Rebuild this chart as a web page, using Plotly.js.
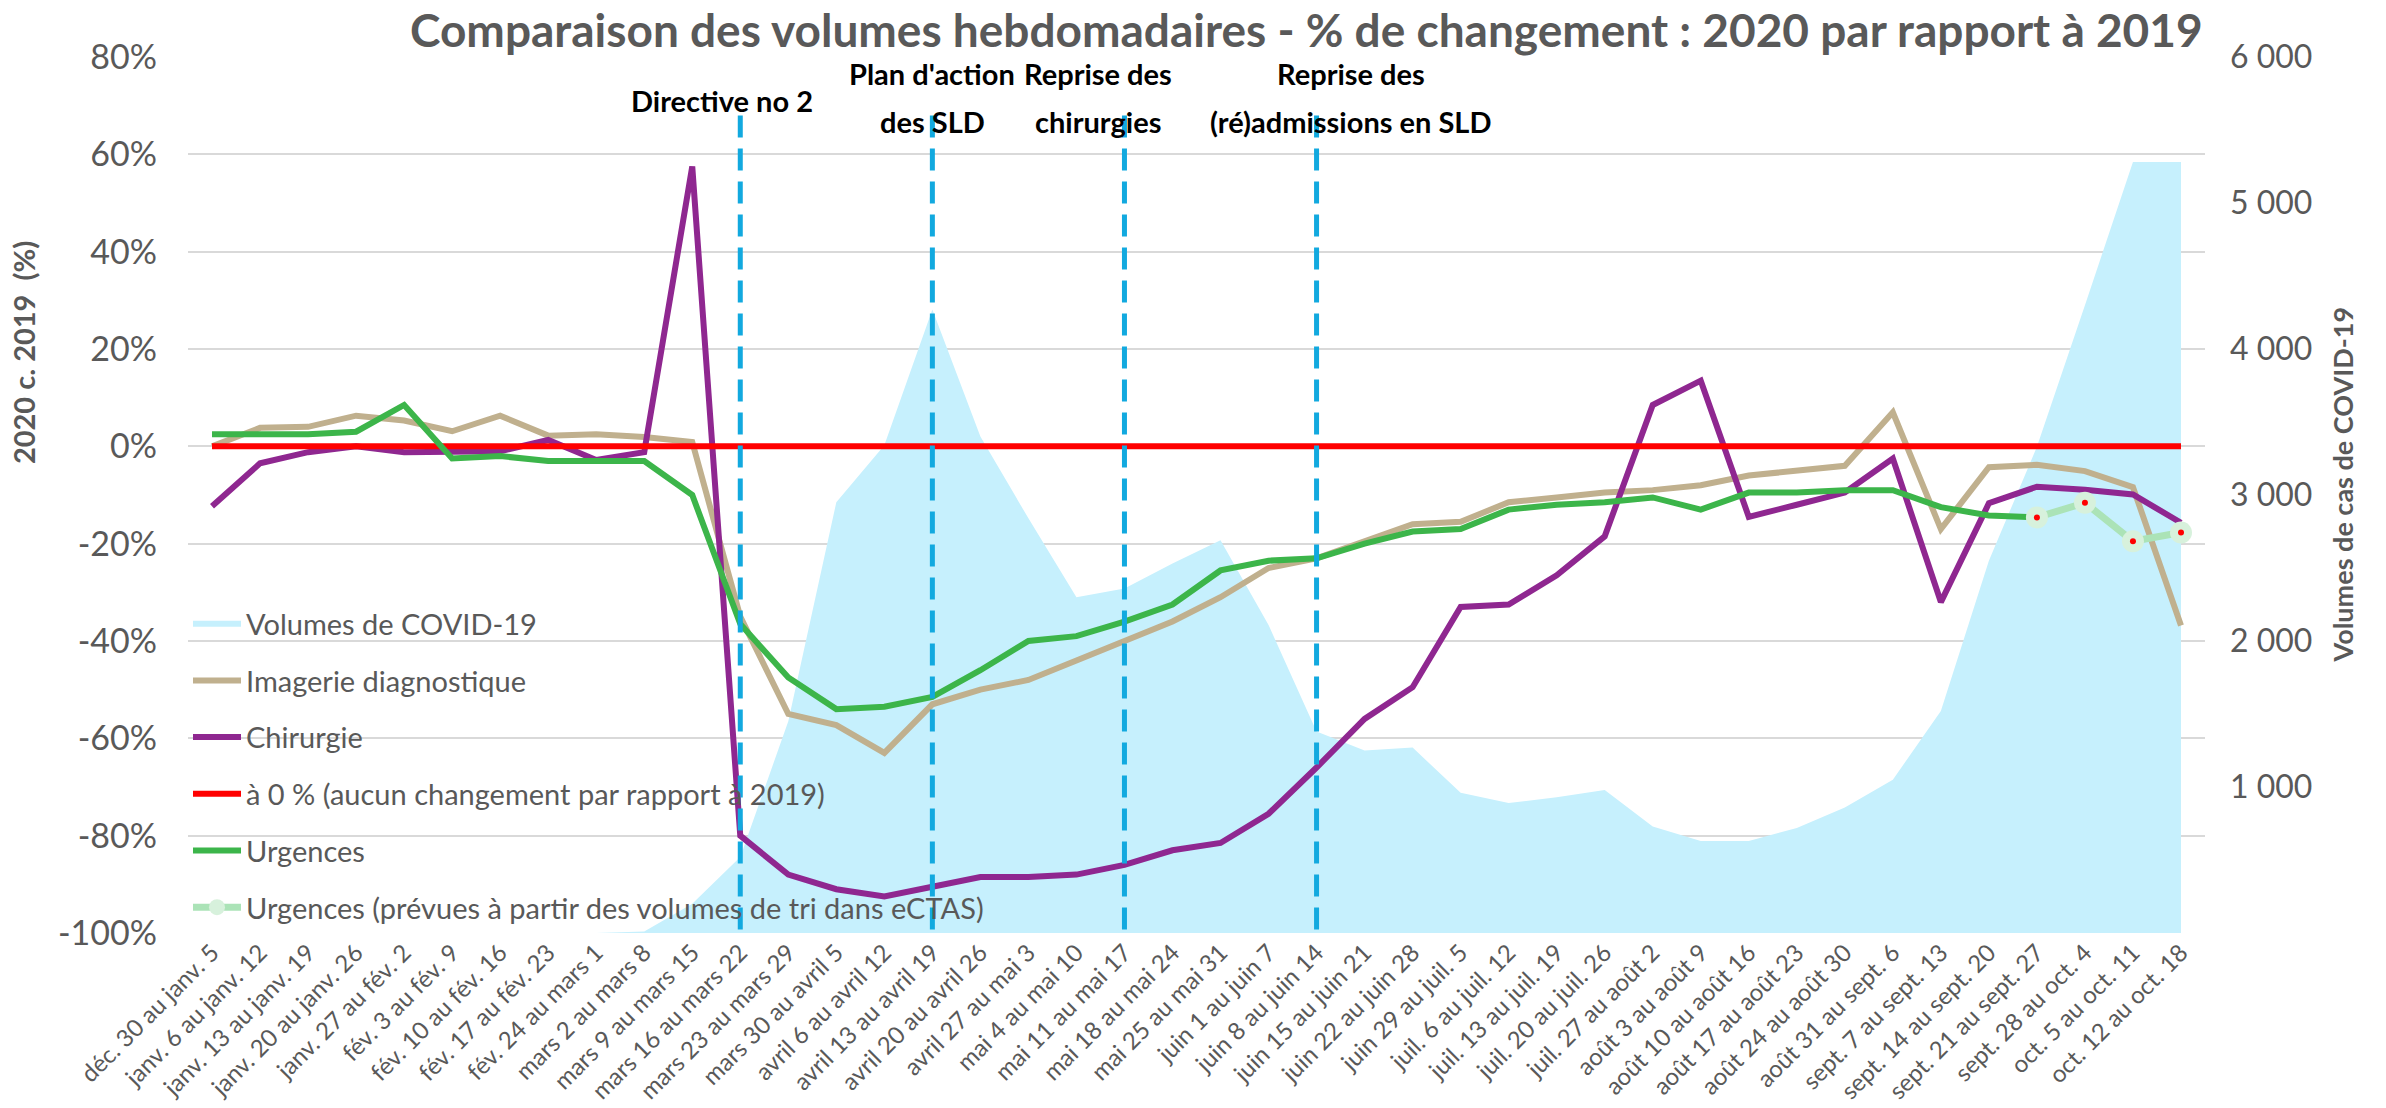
<!DOCTYPE html>
<html><head><meta charset="utf-8">
<script src="https://cdn.plot.ly/plotly-3.0.1.min.js"></script>
<style>html,body{margin:0;padding:0;background:#fff}#chart{width:2386px;height:1108px}</style>
</head><body><div id="chart"></div>
<script>
const categories = [
 'déc. 30 au janv. 5','janv. 6 au janv. 12','janv. 13 au janv. 19','janv. 20 au janv. 26','janv. 27 au fév. 2',
 'fév. 3 au fév. 9','fév. 10 au fév. 16','fév. 17 au fév. 23','fév. 24 au mars 1','mars 2 au mars 8',
 'mars 9 au mars 15','mars 16 au mars 22','mars 23 au mars 29','mars 30 au avril 5','avril 6 au avril 12',
 'avril 13 au avril 19','avril 20 au avril 26','avril 27 au mai 3','mai 4 au mai 10','mai 11 au mai 17',
 'mai 18 au mai 24','mai 25 au mai 31','juin 1 au juin 7','juin 8 au juin 14','juin 15 au juin 21',
 'juin 22 au juin 28','juin 29 au juil. 5','juil. 6 au juil. 12','juil. 13 au juil. 19','juil. 20 au juil. 26',
 'juil. 27 au août 2','août 3 au août 9','août 10 au août 16','août 17 au août 23','août 24 au août 30',
 'août 31 au sept. 6','sept. 7 au sept. 13','sept. 14 au sept. 20','sept. 21 au sept. 27','sept. 28 au oct. 4',
 'oct. 5 au oct. 11','oct. 12 au oct. 18'
];
const covidVolumes = [0,0,0,0,0,0,0,0,0,10,200,520,1450,2950,3340,4270,3400,2840,2300,2360,2530,2690,2110,1380,1250,1270,960,890,930,980,730,630,630,720,860,1050,1520,2550,3330,4300,5280,5280];
const imagerie = [0,3.8,4,6.3,5.3,3.1,6.3,2.2,2.5,1.9,0.9,-35,-55,-57.3,-63,-53,-50,-48,-44,-40,-36,-31,-25,-23,-19.5,-16,-15.5,-11.5,-10.5,-9.5,-9,-8,-6,-5,-4,7,-17,-4.3,-3.8,-5.1,-8.4,-36.8];
const chirurgie = [-12.3,-3.5,-1.2,0,-1.2,-1.2,-1,1.3,-2.8,-1.2,57.5,-80,-88,-91,-92.5,-90.5,-88.5,-88.5,-88,-86,-83,-81.5,-75.5,-66,-56,-49.5,-33,-32.5,-26.5,-18.5,8.5,13.5,-14.5,-12,-9.5,-2.5,-32,-11.7,-8.3,-8.9,-9.9,-15.7];
const baseline = [0,0,0,0,0,0,0,0,0,0,0,0,0,0,0,0,0,0,0,0,0,0,0,0,0,0,0,0,0,0,0,0,0,0,0,0,0,0,0,0,0,0];
const urgences = [2.5,2.5,2.5,3,8.5,-2.5,-2,-3,-3,-3,-10,-36.5,-47.5,-54,-53.5,-51.5,-46,-40,-39,-36,-32.5,-25.5,-23.5,-23,-20,-17.5,-17,-13,-12,-11.5,-10.5,-13,-9.5,-9.5,-9,-9,-12.5,-14.2,-14.6];
const forecastCategories = ['sept. 21 au sept. 27','sept. 28 au oct. 4','oct. 5 au oct. 11','oct. 12 au oct. 18'];
const urgencesPrevues = [-14.6,-11.6,-19.5,-17.7];
const eventCategories = ['mars 16 au mars 22','avril 13 au avril 19','mai 11 au mai 17','juin 8 au juin 14'];
const eventTitles = ['Directive no 2',"Plan d'action<br>des SLD",'Reprise des<br>chirurgies','Reprise des<br>(ré)admissions en SLD'];
const eventLineRange = [68,-100];
const pctTickVals = [-100,-80,-60,-40,-20,0,20,40,60,80];
const pctTickLabels = ['-100%','-80%','-60%','-40%','-20%','0%','20%','40%','60%','80%'];
const covidTickVals = [1000,2000,3000,4000,5000,6000];

const grey = '#595959';
const traces = [
 {x:categories,y:covidVolumes,type:'scatter',mode:'none',fill:'tozeroy',fillcolor:'#C6F0FD',name:'Volumes de COVID-19',yaxis:'y',legendgroup:'a'},
 {x:categories,y:imagerie,type:'scatter',mode:'lines',line:{color:'#C0B08E',width:6},name:'Imagerie diagnostique',yaxis:'y2',legendgroup:'b'},
 {x:categories,y:chirurgie,type:'scatter',mode:'lines',line:{color:'#8F2790',width:6},name:'Chirurgie',yaxis:'y2',legendgroup:'c'},
 {x:categories,y:baseline,type:'scatter',mode:'lines',line:{color:'#FF0000',width:6},name:'à 0 % (aucun changement par rapport à 2019)',yaxis:'y2',legendgroup:'d'},
 {x:categories.slice(0,urgences.length),y:urgences,type:'scatter',mode:'lines',line:{color:'#3CB54A',width:6},name:'Urgences',yaxis:'y2',legendgroup:'e'},
 {x:forecastCategories,y:urgencesPrevues,type:'scatter',mode:'lines+markers',line:{color:'#ABE3B7',width:7},marker:{size:22,color:'#D7F1DC'},name:'Urgences (prévues à partir des volumes de tri dans eCTAS)',yaxis:'y2',legendgroup:'f'},
 {x:forecastCategories,y:urgencesPrevues,type:'scatter',mode:'markers',marker:{size:6,color:'#FF0000'},showlegend:false,yaxis:'y2',legendgroup:'f'}
];
eventCategories.forEach(c=>{
 traces.push({x:[c,c],y:eventLineRange,type:'scatter',mode:'lines',line:{color:'#12A9DF',width:5,dash:'22px,11px'},showlegend:false,yaxis:'y2',hoverinfo:'skip'});
});

const annotations = [];
const eventShift = [-18,0,-26,34];
eventTitles.forEach((t,i)=>{
 const lines = t.split('<br>');
 const ys = lines.length===1 ? [0.9498] : [0.9817,0.9258];
 lines.forEach((ln,j)=>{
  annotations.push({text:'<b>'+ln+'</b>',x:eventCategories[i],xref:'x',y:ys[j],yref:'paper',xshift:eventShift[i],showarrow:false,xanchor:'center',yanchor:'middle',font:{size:29,color:'#000'}});
 });
});
annotations.push({text:'<b>2020 c. 2019\u00a0\u00a0(%)</b>',textangle:-90,xref:'paper',yref:'paper',x:-0.0818,y:0.662,showarrow:false,xanchor:'center',yanchor:'middle',font:{size:29,color:grey}});
annotations.push({text:'<b>Volumes de cas de COVID-19</b>',textangle:-90,xref:'paper',yref:'paper',x:1.0684,y:0.512,showarrow:false,xanchor:'center',yanchor:'middle',font:{size:27,color:grey}});

const layout = {
 width:2386,height:1108,
 margin:{l:188,r:181,t:57,b:175},
 paper_bgcolor:'#fff',plot_bgcolor:'rgba(0,0,0,0)',
 font:{family:'Lato, sans-serif',color:grey},
 separators:', ',
 showlegend:true,
 title:{text:'<b>Comparaison des volumes hebdomadaires - % de changement : 2020 par rapport à 2019</b>',xref:'container',x:0.5475,xanchor:'center',yref:'container',y:0.972,yanchor:'middle',font:{size:46,color:grey,family:'Lato, sans-serif'}},
 xaxis:{type:'category',range:[-0.5,categories.length-0.5],tickangle:-45,tickfont:{size:24,color:grey},showgrid:false,showline:false,ticks:'',zeroline:false,automargin:false},
 yaxis:{side:'right',range:[0,6000],tickvals:covidTickVals,tickformat:',d',showgrid:false,zeroline:false,showline:false,ticks:'',tickfont:{size:32,color:grey},ticklabelstandoff:24,automargin:false},
 yaxis2:{overlaying:'y',side:'left',range:[-100,80],tickvals:pctTickVals,ticktext:pctTickLabels,showgrid:true,gridcolor:'#D9D9D9',gridwidth:2,zeroline:false,showline:false,ticks:'',tickfont:{size:34,color:grey},ticklabelstandoff:30,automargin:false},
 legend:{x:0,xanchor:'left',y:0.382,yanchor:'top',bgcolor:'rgba(0,0,0,0)',font:{size:29,color:grey},tracegroupgap:16,traceorder:'grouped',itemwidth:48},
 annotations:annotations
};
Plotly.newPlot('chart',traces,layout,{displayModeBar:false,staticPlot:true});
</script></body></html>
